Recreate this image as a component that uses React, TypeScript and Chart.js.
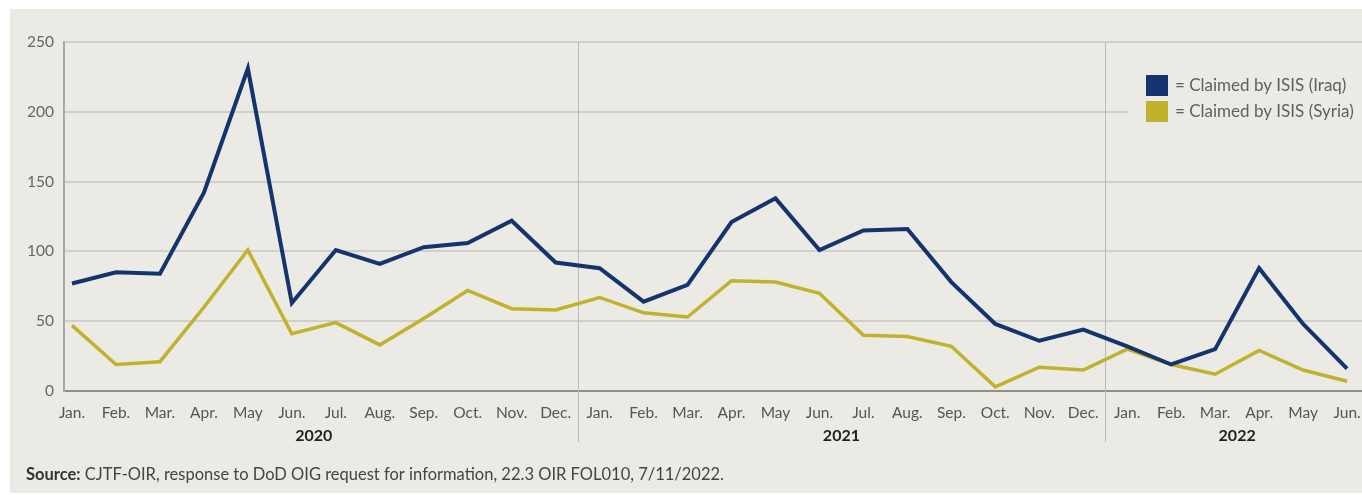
import React, { useEffect, useRef } from "react";
import { Chart, registerables } from "chart.js";

Chart.register(...registerables);

const MONTHS = [
  "Jan.", "Feb.", "Mar.", "Apr.", "May", "Jun.", "Jul.", "Aug.", "Sep.", "Oct.", "Nov.", "Dec.",
  "Jan.", "Feb.", "Mar.", "Apr.", "May", "Jun.", "Jul.", "Aug.", "Sep.", "Oct.", "Nov.", "Dec.",
  "Jan.", "Feb.", "Mar.", "Apr.", "May", "Jun.",
];
const MONTH_YEARS = [
  "2020", "2020", "2020", "2020", "2020", "2020", "2020", "2020", "2020", "2020", "2020", "2020",
  "2021", "2021", "2021", "2021", "2021", "2021", "2021", "2021", "2021", "2021", "2021", "2021",
  "2022", "2022", "2022", "2022", "2022", "2022",
];
const YEARS = ["2020", "2021", "2022"];
const IRAQ = [77, 85, 84, 142, 231, 63, 101, 91, 103, 106, 122, 92, 88, 64, 76, 121, 138, 101, 115, 116, 78, 48, 36, 44, 32, 19, 30, 88, 48, 16];
const SYRIA = [47, 19, 21, 60, 101, 41, 49, 33, 52, 72, 59, 58, 67, 56, 53, 79, 78, 70, 40, 39, 32, 3, 17, 15, 30, 19, 12, 29, 15, 7];
const Y_TICKS = [0, 50, 100, 150, 200, 250];
const SERIES_LABELS = ["= Claimed by ISIS (Iraq)", "= Claimed by ISIS (Syria)"];
const SOURCE_BOLD = "Source:";
const SOURCE_TEXT = " CJTF-OIR, response to DoD OIG request for information, 22.3 OIR FOL010, 7/11/2022.";

const NAVY = "#13346f";
const GOLD = "#c2b12c";
const BG = "#ebeae4";
const FONT = "Lato, 'Open Sans', sans-serif";

export default function App() {
  const ref = useRef<HTMLCanvasElement | null>(null);

  useEffect(() => {
    const canvas = ref.current;
    if (!canvas) return;

    const decor = {
      id: "decor",
      beforeDraw(chart: any) {
        const ctx = chart.ctx;
        ctx.save();
        ctx.fillStyle = "#ffffff";
        ctx.fillRect(0, 0, chart.width, chart.height);
        ctx.fillStyle = BG;
        ctx.fillRect(10, 9, chart.width - 10, 484);
        ctx.restore();
      },
      beforeDatasetsDraw(chart: any) {
        const ctx = chart.ctx;
        const xs = chart.scales.x;
        const area = chart.chartArea;
        ctx.save();
        ctx.strokeStyle = "#b9b9b6";
        ctx.lineWidth = 1;
        for (let i = 1; i < MONTH_YEARS.length; i++) {
          if (MONTH_YEARS[i] !== MONTH_YEARS[i - 1]) {
            const px = Math.round(xs.getPixelForValue(i - 0.5)) + 0.5;
            ctx.beginPath();
            ctx.moveTo(px, area.top);
            ctx.lineTo(px, 442);
            ctx.stroke();
          }
        }
        ctx.fillStyle = BG;
        ctx.fillRect(1128, 55, chart.width - 1128, 80);
        ctx.restore();
      },
      afterDraw(chart: any) {
        const ctx = chart.ctx;
        const xs = chart.scales.x;
        ctx.save();
        ctx.font = `bold 16px ${FONT}`;
        ctx.fillStyle = "#222";
        ctx.textAlign = "center";
        ctx.textBaseline = "middle";
        YEARS.forEach((y) => {
          const idx = MONTH_YEARS.map((m, i) => (m === y ? i : -1)).filter((i) => i >= 0);
          const mid = (idx[0] + idx[idx.length - 1]) / 2;
          ctx.fillText(y, xs.getPixelForValue(mid), 436);
        });
        const colors = [NAVY, GOLD];
        ctx.textAlign = "left";
        ctx.font = `17px ${FONT}`;
        SERIES_LABELS.forEach((lab, i) => {
          const top = 75 + i * 26;
          ctx.fillStyle = colors[i];
          ctx.fillRect(1146, top, 22, 21);
          ctx.fillStyle = "#5f5f5f";
          ctx.fillText(lab, 1175, top + 11);
        });
        ctx.font = `bold 16.5px ${FONT}`;
        ctx.fillStyle = "#333";
        ctx.fillText(SOURCE_BOLD, 26, 475);
        const w = ctx.measureText(SOURCE_BOLD).width;
        ctx.font = `16.5px ${FONT}`;
        ctx.fillStyle = "#444";
        ctx.fillText(SOURCE_TEXT, 26 + w, 475);
        ctx.restore();
      },
    };

    const chart = new Chart(canvas, {
      type: "line",
      data: {
        datasets: [
          {
            label: "Claimed by ISIS (Iraq)",
            data: IRAQ.map((v, i) => ({ x: i, y: v })),
            borderColor: NAVY,
            backgroundColor: NAVY,
            borderWidth: 4,
            pointRadius: 0,
            tension: 0,
          },
          {
            label: "Claimed by ISIS (Syria)",
            data: SYRIA.map((v, i) => ({ x: i, y: v })),
            borderColor: GOLD,
            backgroundColor: GOLD,
            borderWidth: 3.5,
            pointRadius: 0,
            tension: 0,
          },
        ],
      },
      options: {
        animation: false,
        responsive: false,
        layout: { padding: { top: 42, left: 0, right: 0, bottom: 0 } },
        plugins: { legend: { display: false }, tooltip: { enabled: false } },
        scales: {
          x: {
            type: "linear",
            min: -0.182,
            max: 29.34,
            afterBuildTicks: (s: any) => {
              s.ticks = MONTHS.map((_, i) => ({ value: i }));
            },
            afterFit: (s: any) => {
              s.height = 104;
              s.paddingLeft = 0;
              s.paddingRight = 0;
            },
            ticks: {
              autoSkip: false,
              maxRotation: 0,
              padding: 5,
              color: "#555",
              font: { family: FONT, size: 15.5 },
              callback: (v: any) => MONTHS[v as number] ?? "",
            },
            grid: { display: false },
            border: { display: true, color: "#8e8e8c", width: 2 },
          },
          y: {
            min: 0,
            max: 250,
            afterBuildTicks: (s: any) => {
              s.ticks = Y_TICKS.map((v) => ({ value: v }));
            },
            afterFit: (s: any) => {
              s.width = 64;
              s.paddingTop = 0;
              s.paddingBottom = 0;
            },
            ticks: {
              padding: 10,
              color: "#666",
              font: { family: FONT, size: 15.5 },
            },
            grid: { color: "#d0cfca", lineWidth: 2, drawTicks: false },
            border: { display: true, color: "#a9a9a7", width: 2 },
          },
        },
      },
      plugins: [decor],
    });

    return () => chart.destroy();
  }, []);

  return (
    <div style={{ position: "fixed", left: 0, top: 0, width: 1362, height: 495 }}>
      <canvas ref={ref} width={1362} height={495} style={{ display: "block" }} />
    </div>
  );
}
